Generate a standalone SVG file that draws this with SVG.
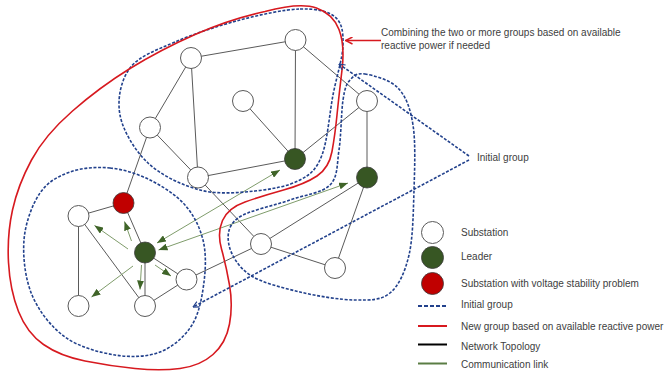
<svg xmlns="http://www.w3.org/2000/svg" width="668" height="377" viewBox="0 0 668 377">
  <style>
    .topo { stroke: #5a5a5a; stroke-width: 1; fill: none; }
    .comm { stroke: #7f9c6b; stroke-width: 1; fill: none; }
    .grp { stroke: #22418c; stroke-width: 1.6; stroke-dasharray: 3 1.6; fill: none; }
    .newgrp { stroke: #d7191f; stroke-width: 1.6; fill: none; }
    .sub { fill: #ffffff; stroke: #5a5a5a; stroke-width: 1; }
    .lead { fill: #375623; stroke: #3a3a3a; stroke-width: 0.8; }
    .warn { fill: #c00000; stroke: #3a3a3a; stroke-width: 0.8; }
    text { font-family: "Liberation Sans", Arial, sans-serif; font-size: 10px; fill: #404040; }
  </style>
  <defs>
    <marker id="arrowG" viewBox="0 0 9 7" refX="9" refY="3.5" markerWidth="9" markerHeight="7" markerUnits="userSpaceOnUse" orient="auto-start-reverse">
      <path d="M0,0 L9,3.5 L0,7 z" fill="#3f6428"/>
    </marker>
    <marker id="arrowB" viewBox="0 0 7 7" refX="6.5" refY="3.5" markerWidth="7" markerHeight="7" markerUnits="userSpaceOnUse" orient="auto">
      <path d="M0.5,0.5 L6.5,3.5 L0.5,6.5" fill="none" stroke="#22418c" stroke-width="1.2"/>
    </marker>
    <marker id="arrowR" viewBox="0 0 8 8" refX="7.5" refY="4" markerWidth="8" markerHeight="8" markerUnits="userSpaceOnUse" orient="auto">
      <path d="M0.5,0.5 L7.5,4 L0.5,7.5" fill="none" stroke="#d7191f" stroke-width="1.4"/>
    </marker>
  </defs>

  <!-- network topology and communication links -->
  <g id="connectors">
    <g id="topology">
      <line class="topo" x1="295.5" y1="40" x2="191" y2="58"/>
      <line class="topo" x1="295.5" y1="40" x2="295" y2="159"/>
      <line class="topo" x1="295.5" y1="40" x2="367" y2="101"/>
      <line class="topo" x1="191" y1="58" x2="150" y2="127.5"/>
      <line class="topo" x1="191" y1="58" x2="198" y2="177.5"/>
      <line class="topo" x1="150" y1="127.5" x2="198" y2="177.5"/>
      <line class="topo" x1="150" y1="127.5" x2="123.5" y2="203"/>
      <line class="topo" x1="243" y1="101" x2="295" y2="159"/>
      <line class="topo" x1="198" y1="177.5" x2="295" y2="159"/>
      <line class="topo" x1="198" y1="177.5" x2="261" y2="244"/>
      <line class="topo" x1="367" y1="101" x2="295" y2="159"/>
      <line class="topo" x1="367" y1="101" x2="367" y2="177.5"/>
      <line class="topo" x1="367" y1="177.5" x2="261" y2="244"/>
      <line class="topo" x1="367" y1="177.5" x2="335" y2="268"/>
      <line class="topo" x1="261" y1="244" x2="335" y2="268"/>
      <line class="topo" x1="261" y1="244" x2="186.5" y2="279.5"/>
      <line class="topo" x1="123.5" y1="203" x2="78.5" y2="216"/>
      <line class="topo" x1="123.5" y1="203" x2="145" y2="252.5"/>
      <line class="topo" x1="78.5" y1="216" x2="78.5" y2="306"/>
      <line class="topo" x1="78.5" y1="216" x2="145" y2="306"/>
      <line class="topo" x1="145" y1="252.5" x2="145" y2="306"/>
      <line class="topo" x1="145" y1="252.5" x2="186.5" y2="279.5"/>
      <line class="topo" x1="145" y1="306" x2="186.5" y2="279.5"/>
    </g>
    <g id="communication">
      <line class="comm" x1="131.5" y1="241" x2="124.5" y2="221.5" marker-end="url(#arrowG)"/>
      <line class="comm" x1="128" y1="249" x2="94.5" y2="225.5" marker-end="url(#arrowG)"/>
      <line class="comm" x1="133" y1="266" x2="91.5" y2="297" marker-end="url(#arrowG)"/>
      <line class="comm" x1="141.5" y1="265" x2="140" y2="289.5" marker-end="url(#arrowG)"/>
      <line class="comm" x1="155" y1="265" x2="171" y2="276" marker-end="url(#arrowG)"/>
      <line class="comm" x1="157" y1="243" x2="280" y2="170" marker-start="url(#arrowG)" marker-end="url(#arrowG)"/>
      <line class="comm" x1="158.5" y1="250" x2="348" y2="183" marker-start="url(#arrowG)" marker-end="url(#arrowG)"/>
    </g>
  </g>

  <!-- group outlines -->
  <g id="groups">
    <path id="group-top" class="grp" d="M300,9 C315.8,8.5 327.8,11 335,17 C342.2,23 343.3,32 343,45 C342.7,58 336.5,76.7 333,95 C329.5,113.3 327.5,140.8 322,155 C316.5,169.2 311.2,174 300,180 C288.8,186 271.7,189.3 255,191 C238.3,192.7 217.8,194.7 200,190 C182.2,185.3 161.3,175.5 148,163 C134.7,150.5 123,130.8 120,115 C117,99.2 120.8,80.2 130,68 C139.2,55.8 156.7,50 175,42 C193.3,34 219.2,25.5 240,20 C260.8,14.5 284.2,9.5 300,9 Z"/>
    <path id="group-right" class="grp" d="M365,74 C373,75.3 390,79.5 398,88 C406,96.5 410.3,108 413,125 C415.7,142 414.7,168.3 414,190 C413.3,211.7 413,237.8 409,255 C405,272.2 399,285.5 390,293 C381,300.5 370,300.2 355,300 C340,299.8 317.5,296.2 300,292 C282.5,287.8 261.8,282.8 250,275 C238.2,267.2 231,254.5 229,245 C227,235.5 227.8,225.5 238,218 C248.2,210.5 274.7,205.5 290,200 C305.3,194.5 321.8,193.3 330,185 C338.2,176.7 336.8,164.2 339,150 C341.2,135.8 341.2,111.7 343,100 C344.8,88.3 346.3,84.3 350,80 C353.7,75.7 357,72.7 365,74 Z"/>
    <path id="group-left" class="grp" d="M110,168 C123.3,169.3 137.5,173.8 150,180 C162.5,186.2 176.2,195 185,205 C193.8,215 199.8,227.2 203,240 C206.2,252.8 205.8,267.8 204,282 C202.2,296.2 199.3,313.3 192,325 C184.7,336.7 172.8,347 160,352 C147.2,357 130.8,357.5 115,355 C99.2,352.5 78.8,347 65,337 C51.2,327 38.8,311.2 32,295 C25.2,278.8 22.7,257 24,240 C25.3,223 32.3,204.3 40,193 C47.7,181.7 58.3,176.2 70,172 C81.7,167.8 96.7,166.7 110,168 Z"/>
    <path id="group-new" class="newgrp" d="M265,11.5 Q300,2 316.5,8 Q333,14 339,29.5 Q345,45 342,70 Q339,95 337,115 Q335,135 332,151.5 Q329,168 317,176 Q305,184 283.5,190 Q262,196 245,202 Q228,208 222.5,220.5 Q217,233 221.5,249 Q226,265 229.5,285 Q233,305 229.5,324 Q226,343 213,354.5 Q200,366 180,368.5 Q160,371 135,368.5 Q110,366 85,361 Q60,356 43.5,344.5 Q27,333 18.5,311.5 Q10,290 8.5,262.5 Q7,235 12.5,210 Q18,185 31.5,160 Q45,135 72.5,111 Q100,87 130,68.5 Q160,50 195,34.5 Q230,19 265,11.5 Z"/>
  </g>

  <!-- substations -->
  <g id="node-a"><circle class="sub" cx="295.5" cy="40" r="10.5"/></g>
  <g id="node-b"><circle class="sub" cx="191" cy="58" r="10.5"/></g>
  <g id="node-c"><circle class="sub" cx="150" cy="127.5" r="10.5"/></g>
  <g id="node-d"><circle class="sub" cx="243" cy="101" r="10.5"/></g>
  <g id="node-e"><circle class="sub" cx="198" cy="177.5" r="10.5"/></g>
  <g id="node-f"><circle class="sub" cx="367" cy="101" r="10.5"/></g>
  <g id="leader-1"><circle class="lead" cx="295" cy="159" r="10.5"/></g>
  <g id="leader-2"><circle class="lead" cx="367" cy="177.5" r="10.5"/></g>
  <g id="node-red"><circle class="warn" cx="123.5" cy="203" r="10.5"/></g>
  <g id="node-g"><circle class="sub" cx="78.5" cy="216" r="10.5"/></g>
  <g id="leader-3"><circle class="lead" cx="145" cy="252.5" r="10.5"/></g>
  <g id="node-h"><circle class="sub" cx="186.5" cy="279.5" r="10.5"/></g>
  <g id="node-i"><circle class="sub" cx="78.5" cy="306" r="10.5"/></g>
  <g id="node-j"><circle class="sub" cx="145" cy="306" r="10.5"/></g>
  <g id="node-k"><circle class="sub" cx="261" cy="244" r="10.5"/></g>
  <g id="node-m"><circle class="sub" cx="335" cy="268" r="10.5"/></g>

  <!-- annotations -->
  <g id="note-combine">
    <line x1="381" y1="40.5" x2="345.5" y2="40.5" stroke="#d7191f" stroke-width="1.6" marker-end="url(#arrowR)"/>
    <text x="381" y="36">Combining the two or more groups based on available</text>
    <text x="381" y="48.5">reactive power if needed</text>
  </g>
  <g id="note-initial">
    <line class="grp" x1="469" y1="156" x2="339" y2="64" marker-end="url(#arrowB)"/>
    <line class="grp" x1="469" y1="160" x2="193" y2="307" marker-end="url(#arrowB)"/>
    <text x="477" y="161">Initial group</text>
  </g>

  <!-- legend -->
  <g id="legend">
    <circle class="sub" cx="432.5" cy="232.5" r="11"/>
    <text x="461" y="236">Substation</text>
    <circle class="lead" cx="432.5" cy="257.5" r="11"/>
    <text x="461" y="260">Leader</text>
    <circle class="warn" cx="432.5" cy="283.5" r="11"/>
    <text x="461" y="286.5">Substation with voltage stability problem</text>
    <line x1="418" y1="306" x2="447" y2="306" stroke="#22418c" stroke-width="2" stroke-dasharray="4 2"/>
    <text x="461" y="308">Initial group</text>
    <line x1="418" y1="326" x2="447" y2="326" stroke="#d7191f" stroke-width="2"/>
    <text x="461" y="330">New group based on available reactive power</text>
    <line x1="418" y1="344.5" x2="447" y2="344.5" stroke="#000000" stroke-width="2"/>
    <text x="461" y="349.5">Network Topology</text>
    <line x1="418" y1="363.5" x2="447" y2="363.5" stroke="#5a7d44" stroke-width="2"/>
    <text x="461" y="367.5">Communication link</text>
  </g>
</svg>
